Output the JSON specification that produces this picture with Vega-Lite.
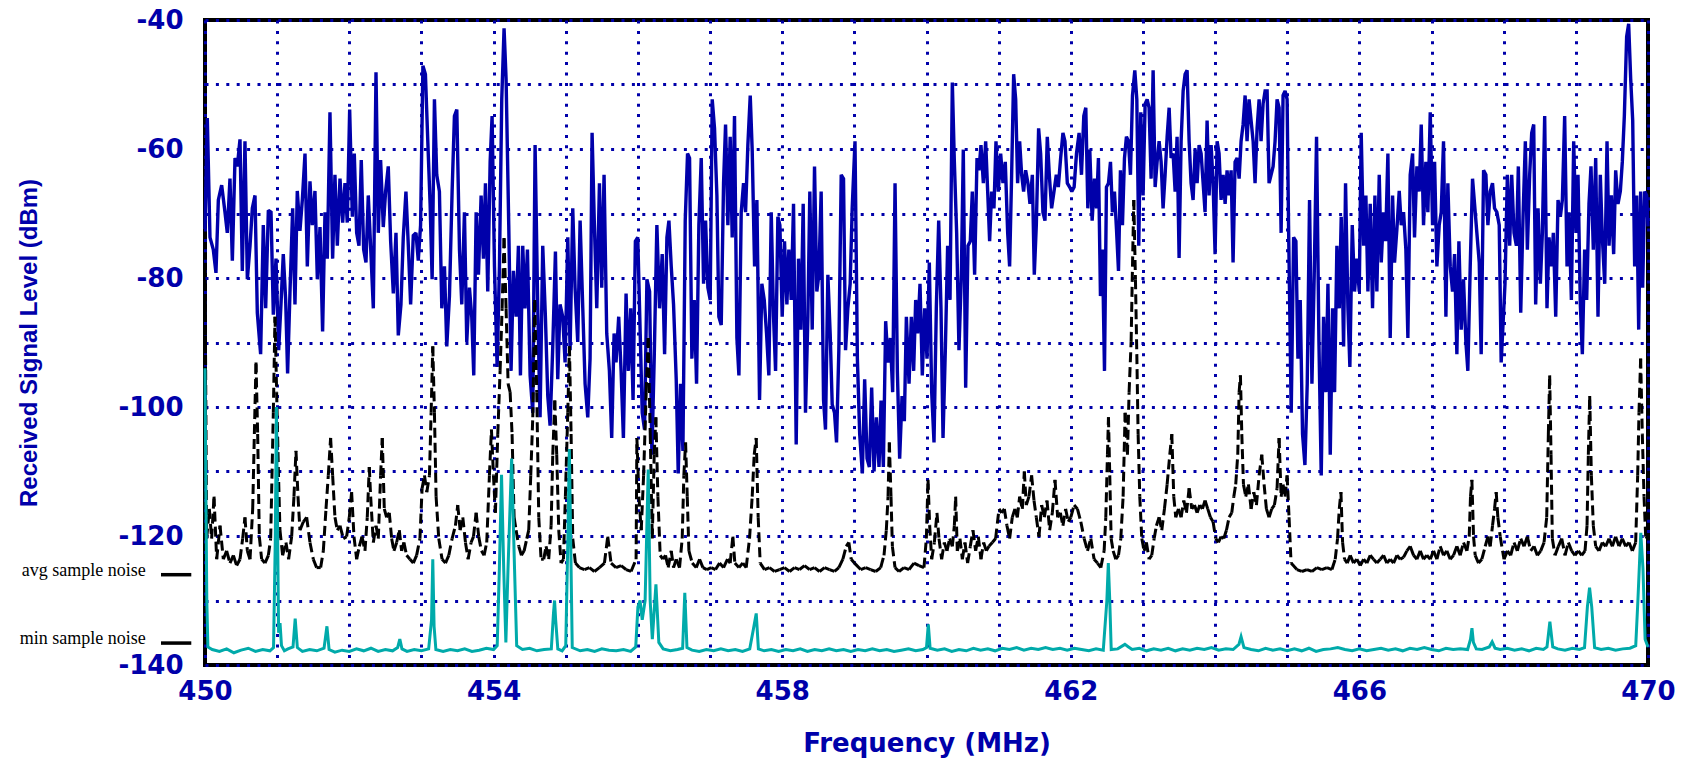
{
  "$schema": "https://vega.github.io/schema/vega-lite/v6.json",
  "width": 1443,
  "height": 645,
  "autosize": {"type": "none"},
  "padding": {"left": 205, "right": 42, "top": 20, "bottom": 97},
  "background": "#ffffff",
  "config": {
    "view": {"stroke": "#000000", "strokeWidth": 4},
    "axis": {
      "domain": false,
      "ticks": false,
      "tickSize": 0,
      "grid": true,
      "gridColor": "#0000AA",
      "gridWidth": 3,
      "gridDash": [3, 7.4],
      "gridOpacity": 1,
      "labelFont": "DejaVu Sans",
      "labelFontWeight": "bold",
      "labelFontSize": 26,
      "labelColor": "#0000AA",
      "labelOverlap": false,
      "labelFlush": false,
      "labelBound": false,
      "titleColor": "#0000AA"
    }
  },
  "datasets": {
    "maxTrace": [
      {"f":450.0,"v":-72.4},{"f":450.032,"v":-55.2},{"f":450.069,"v":-73.7},{"f":450.115,"v":-75.6},{"f":450.152,"v":-79.2},{"f":450.185,"v":-67.9},{"f":450.231,"v":-65.6},{"f":450.277,"v":-69.8},{"f":450.309,"v":-73},{"f":450.346,"v":-64.6},{"f":450.379,"v":-77.3},{"f":450.416,"v":-61.4},{"f":450.448,"v":-62.7},{"f":450.485,"v":-58.5},{"f":450.517,"v":-78.9},{"f":450.554,"v":-58.8},{"f":450.587,"v":-80.2},{"f":450.624,"v":-75},{"f":450.656,"v":-69.2},{"f":450.693,"v":-67.2},{"f":450.725,"v":-85.4},{"f":450.771,"v":-91.8},{"f":450.808,"v":-71.8},{"f":450.841,"v":-84.7},{"f":450.878,"v":-69.5},{"f":450.915,"v":-69.8},{"f":450.947,"v":-85.7},{"f":450.984,"v":-77},{"f":451.021,"v":-91.2},{"f":451.053,"v":-84.1},{"f":451.085,"v":-76.3},{"f":451.118,"v":-83.4},{"f":451.145,"v":-94.8},{"f":451.178,"v":-82.1},{"f":451.215,"v":-69.2},{"f":451.247,"v":-84.1},{"f":451.279,"v":-66.5},{"f":451.316,"v":-72.7},{"f":451.349,"v":-67.9},{"f":451.386,"v":-60.7},{"f":451.418,"v":-78.2},{"f":451.455,"v":-65},{"f":451.487,"v":-71.8},{"f":451.524,"v":-66.5},{"f":451.557,"v":-80.2},{"f":451.594,"v":-72.1},{"f":451.63,"v":-88.3},{"f":451.663,"v":-69.8},{"f":451.695,"v":-77},{"f":451.732,"v":-54.3},{"f":451.769,"v":-77},{"f":451.801,"v":-64},{"f":451.834,"v":-75},{"f":451.871,"v":-64.6},{"f":451.908,"v":-71.4},{"f":451.94,"v":-65.3},{"f":451.972,"v":-71.4},{"f":452.005,"v":-53.9},{"f":452.042,"v":-70.5},{"f":452.069,"v":-60.7},{"f":452.102,"v":-73},{"f":452.134,"v":-75},{"f":452.166,"v":-61.7},{"f":452.199,"v":-75.6},{"f":452.231,"v":-77.6},{"f":452.263,"v":-67.2},{"f":452.296,"v":-75.3},{"f":452.333,"v":-84.7},{"f":452.37,"v":-48.1},{"f":452.402,"v":-73},{"f":452.434,"v":-61.7},{"f":452.471,"v":-72.1},{"f":452.503,"v":-66.6},{"f":452.54,"v":-62.7},{"f":452.573,"v":-74.3},{"f":452.61,"v":-82.4},{"f":452.647,"v":-73},{"f":452.679,"v":-88.9},{"f":452.716,"v":-84.1},{"f":452.748,"v":-73.7},{"f":452.785,"v":-66.6},{"f":452.818,"v":-75},{"f":452.85,"v":-84.1},{"f":452.887,"v":-73.4},{"f":452.924,"v":-73},{"f":452.956,"v":-77.3},{"f":452.988,"v":-71.8},{"f":453.02,"v":-47.1},
      {"f":453.055,"v":-48.4},{"f":453.088,"v":-58.8},{"f":453.12,"v":-68.5},{"f":453.148,"v":-80.2},{"f":453.18,"v":-52.3},{"f":453.212,"v":-64},{"f":453.249,"v":-66.6},{"f":453.282,"v":-84.7},{"f":453.319,"v":-78.2},{"f":453.351,"v":-90.6},{"f":453.388,"v":-82.8},{"f":453.425,"v":-66.6},{"f":453.457,"v":-54.9},{"f":453.49,"v":-53.9},{"f":453.527,"v":-75.6},{"f":453.559,"v":-84.1},{"f":453.596,"v":-69.8},{"f":453.628,"v":-89.9},{"f":453.665,"v":-81.5},{"f":453.697,"v":-86},{"f":453.725,"v":-95.1},{"f":453.758,"v":-69.8},{"f":453.79,"v":-79.5},{"f":453.827,"v":-67.2},{"f":453.859,"v":-77},{"f":453.887,"v":-65.3},{"f":453.919,"v":-82.1},{"f":453.952,"v":-62},{"f":453.979,"v":-54.9},{"f":454.012,"v":-78.2},{"f":454.049,"v":-93.8},{"f":454.081,"v":-78.2},{"f":454.113,"v":-52.3},{"f":454.145,"v":-41.3},{"f":454.173,"v":-49.1},{"f":454.21,"v":-71.8},{"f":454.242,"v":-94.4},{"f":454.275,"v":-78.9},{"f":454.312,"v":-86},{"f":454.344,"v":-75},{"f":454.372,"v":-95.1},{"f":454.404,"v":-75},{"f":454.436,"v":-84.7},{"f":454.469,"v":-75.6},{"f":454.506,"v":-95.1},{"f":454.543,"v":-100.9},{"f":454.575,"v":-59.4},{"f":454.612,"v":-84.7},{"f":454.644,"v":-101.6},{"f":454.681,"v":-75},{"f":454.718,"v":-86},{"f":454.751,"v":-98.3},{"f":454.783,"v":-102.9},{"f":454.82,"v":-90.6},{"f":454.857,"v":-75.9},{"f":454.889,"v":-95.7},{"f":454.921,"v":-84.1},{"f":454.958,"v":-86},{"f":454.991,"v":-93.1},{"f":455.028,"v":-73.7},{"f":455.06,"v":-91.2},{"f":455.097,"v":-69.2},{"f":455.129,"v":-81.5},{"f":455.166,"v":-89.9},{"f":455.199,"v":-71.1},{"f":455.236,"v":-84.7},{"f":455.268,"v":-96.4},{"f":455.305,"v":-101.6},{"f":455.337,"v":-92.5},{"f":455.365,"v":-57.5},{"f":455.397,"v":-71.8},{"f":455.43,"v":-84.7},{"f":455.467,"v":-65.3},{"f":455.499,"v":-81.5},{"f":455.531,"v":-64},{"f":455.568,"v":-88.6},{"f":455.605,"v":-94.4},{"f":455.637,"v":-104.8},{"f":455.67,"v":-88.6},{"f":455.697,"v":-93.1},{"f":455.734,"v":-86},{"f":455.767,"v":-94.4},{"f":455.799,"v":-104.8},{"f":455.836,"v":-82.4},{"f":455.868,"v":-94.4},{"f":455.901,"v":-84.7},{"f":455.933,"v":-98.9},{"f":455.965,"v":-74.3},{"f":455.998,"v":-73.7},
      {"f":456.032,"v":-88.6},{"f":456.06,"v":-100.9},{"f":456.092,"v":-103.5},{"f":456.125,"v":-80.2},{"f":456.162,"v":-82.1},{"f":456.194,"v":-107.4},{"f":456.226,"v":-92.5},{"f":456.263,"v":-71.8},{"f":456.3,"v":-84.7},{"f":456.337,"v":-76.3},{"f":456.37,"v":-91.8},{"f":456.402,"v":-73.7},{"f":456.43,"v":-71.1},{"f":456.462,"v":-78.2},{"f":456.494,"v":-84.1},{"f":456.531,"v":-95.7},{"f":456.559,"v":-110.3},{"f":456.591,"v":-96.4},{"f":456.624,"v":-106.8},{"f":456.656,"v":-71.1},{"f":456.688,"v":-60.7},{"f":456.716,"v":-61.4},{"f":456.748,"v":-92.5},{"f":456.781,"v":-83.4},{"f":456.813,"v":-96.4},{"f":456.845,"v":-71.8},{"f":456.878,"v":-61.4},{"f":456.91,"v":-80.9},{"f":456.938,"v":-71.1},{"f":456.97,"v":-81.5},{"f":457.002,"v":-83.4},{"f":457.03,"v":-52.3},{"f":457.062,"v":-56.8},{"f":457.095,"v":-67.2},{"f":457.122,"v":-86},{"f":457.155,"v":-87.3},{"f":457.187,"v":-65.3},{"f":457.215,"v":-56.2},{"f":457.247,"v":-71.8},{"f":457.279,"v":-58.1},{"f":457.307,"v":-73.7},{"f":457.339,"v":-54.9},{"f":457.372,"v":-89.3},{"f":457.4,"v":-95.1},{"f":457.432,"v":-69.8},{"f":457.464,"v":-65.3},{"f":457.492,"v":-69.8},{"f":457.524,"v":-59.4},{"f":457.557,"v":-51.7},{"f":457.584,"v":-60.1},{"f":457.617,"v":-78.2},{"f":457.649,"v":-67.9},{"f":457.686,"v":-98.9},{"f":457.718,"v":-80.9},{"f":457.751,"v":-83.4},{"f":457.783,"v":-88.6},{"f":457.815,"v":-95.1},{"f":457.848,"v":-69.8},{"f":457.88,"v":-86},{"f":457.908,"v":-94.4},{"f":457.94,"v":-70.5},{"f":457.968,"v":-71.8},{"f":458.0,"v":-86},{"f":458.032,"v":-74.3},{"f":458.065,"v":-84.1},{"f":458.092,"v":-75.6},{"f":458.125,"v":-83.4},{"f":458.157,"v":-68.5},{"f":458.194,"v":-105.8},{"f":458.226,"v":-77},{"f":458.259,"v":-88},{"f":458.291,"v":-68.5},{"f":458.323,"v":-100.9},{"f":458.356,"v":-86},{"f":458.383,"v":-66.6},{"f":458.416,"v":-88},{"f":458.448,"v":-62.7},{"f":458.48,"v":-82.1},{"f":458.508,"v":-79.5},{"f":458.54,"v":-66.6},{"f":458.573,"v":-98.9},{"f":458.6,"v":-103.5},{"f":458.633,"v":-79.5},{"f":458.665,"v":-88.6},{"f":458.693,"v":-99.6},{"f":458.725,"v":-100.9},{"f":458.753,"v":-105.5},{"f":458.785,"v":-91.2},{"f":458.818,"v":-64},{"f":458.85,"v":-64.6},{"f":458.878,"v":-91.2},{"f":458.91,"v":-84.7},{"f":458.942,"v":-80.9},{"f":458.97,"v":-69.2},
      {"f":459.009,"v":-58.8},{"f":459.042,"v":-92.5},{"f":459.074,"v":-104.2},{"f":459.111,"v":-110.3},{"f":459.143,"v":-95.7},{"f":459.176,"v":-108},{"f":459.208,"v":-109.3},{"f":459.24,"v":-97},{"f":459.273,"v":-110},{"f":459.305,"v":-101.6},{"f":459.342,"v":-109.3},{"f":459.37,"v":-99},{"f":459.402,"v":-109.3},{"f":459.434,"v":-86.7},{"f":459.467,"v":-93.1},{"f":459.499,"v":-89.3},{"f":459.531,"v":-97.7},{"f":459.564,"v":-65.3},{"f":459.596,"v":-94.4},{"f":459.628,"v":-108},{"f":459.661,"v":-98.3},{"f":459.693,"v":-102.2},{"f":459.721,"v":-86},{"f":459.758,"v":-96.4},{"f":459.79,"v":-86},{"f":459.822,"v":-94.4},{"f":459.85,"v":-83.4},{"f":459.878,"v":-88.6},{"f":459.91,"v":-80.9},{"f":459.942,"v":-95.1},{"f":459.975,"v":-84.7},{"f":460.007,"v":-92.5},{"f":460.039,"v":-77.6},{"f":460.072,"v":-97.7},{"f":460.104,"v":-105.5},{"f":460.136,"v":-84.7},{"f":460.169,"v":-71.1},{"f":460.201,"v":-84.7},{"f":460.229,"v":-104.8},{"f":460.261,"v":-91.2},{"f":460.293,"v":-75},{"f":460.326,"v":-83.4},{"f":460.358,"v":-49.7},{"f":460.386,"v":-62},{"f":460.418,"v":-73},{"f":460.45,"v":-91.2},{"f":460.483,"v":-79.5},{"f":460.51,"v":-60.1},{"f":460.543,"v":-97},{"f":460.575,"v":-75},{"f":460.607,"v":-74.3},{"f":460.635,"v":-66.6},{"f":460.667,"v":-79.5},{"f":460.7,"v":-61.4},{"f":460.727,"v":-63.3},{"f":460.755,"v":-59.4},{"f":460.788,"v":-65.3},{"f":460.82,"v":-58.8},{"f":460.848,"v":-66.6},{"f":460.875,"v":-74.3},{"f":460.903,"v":-66.6},{"f":460.935,"v":-69.2},{"f":460.963,"v":-58.8},{"f":460.995,"v":-66.6},{"f":461.028,"v":-60.7},{"f":461.06,"v":-65.3},{"f":461.092,"v":-62},{"f":461.125,"v":-73},{"f":461.152,"v":-78.2},{"f":461.18,"v":-64},{"f":461.208,"v":-48.4},{"f":461.236,"v":-52.3},{"f":461.263,"v":-65.3},{"f":461.291,"v":-58.8},{"f":461.319,"v":-64},{"f":461.346,"v":-66.6},{"f":461.374,"v":-63.3},{"f":461.406,"v":-65.3},{"f":461.434,"v":-68.5},{"f":461.467,"v":-64},{"f":461.494,"v":-79.5},{"f":461.522,"v":-71.8},{"f":461.554,"v":-56.8},{"f":461.582,"v":-60.7},{"f":461.614,"v":-69.8},{"f":461.642,"v":-71.1},{"f":461.674,"v":-58.1},{"f":461.702,"v":-64},{"f":461.734,"v":-69.2},{"f":461.767,"v":-66.6},{"f":461.799,"v":-64},{"f":461.827,"v":-65.9},{"f":461.859,"v":-61.4},{"f":461.891,"v":-57.5},{"f":461.919,"v":-58.8},{"f":461.952,"v":-65.3},{"f":461.984,"v":-65.9},
      {"f":462.014,"v":-66.6},{"f":462.046,"v":-65.9},{"f":462.079,"v":-60.7},{"f":462.115,"v":-57.5},{"f":462.148,"v":-64},{"f":462.18,"v":-54.9},{"f":462.208,"v":-53.6},{"f":462.236,"v":-69.2},{"f":462.263,"v":-60.1},{"f":462.296,"v":-71.1},{"f":462.328,"v":-64.6},{"f":462.356,"v":-69.2},{"f":462.383,"v":-61.4},{"f":462.411,"v":-82.8},{"f":462.439,"v":-75.6},{"f":462.467,"v":-94.4},{"f":462.494,"v":-65.9},{"f":462.522,"v":-65.3},{"f":462.55,"v":-62},{"f":462.577,"v":-69.8},{"f":462.605,"v":-66.6},{"f":462.633,"v":-72.4},{"f":462.661,"v":-78.9},{"f":462.688,"v":-63.3},{"f":462.716,"v":-71.8},{"f":462.744,"v":-61.4},{"f":462.771,"v":-58.1},{"f":462.799,"v":-58.8},{"f":462.827,"v":-64},{"f":462.855,"v":-51.7},{"f":462.887,"v":-47.8},{"f":462.915,"v":-52.3},{"f":462.942,"v":-75},{"f":462.97,"v":-54.3},{"f":463.002,"v":-67.2},{"f":463.03,"v":-53},{"f":463.058,"v":-52.3},{"f":463.085,"v":-53.6},{"f":463.113,"v":-64.6},{"f":463.141,"v":-47.8},{"f":463.169,"v":-65.9},{"f":463.196,"v":-62},{"f":463.224,"v":-58.8},{"f":463.252,"v":-62},{"f":463.279,"v":-69.2},{"f":463.307,"v":-64},{"f":463.335,"v":-58.1},{"f":463.363,"v":-53.6},{"f":463.39,"v":-61.4},{"f":463.418,"v":-60.7},{"f":463.446,"v":-66.6},{"f":463.473,"v":-58.1},{"f":463.501,"v":-76.9},{"f":463.529,"v":-58.8},{"f":463.557,"v":-51},{"f":463.584,"v":-48.4},{"f":463.612,"v":-47.8},{"f":463.64,"v":-58.8},{"f":463.667,"v":-65.3},{"f":463.695,"v":-67.9},{"f":463.723,"v":-60.1},{"f":463.751,"v":-65.3},{"f":463.778,"v":-59.4},{"f":463.806,"v":-60.7},{"f":463.834,"v":-65.3},{"f":463.861,"v":-69.8},{"f":463.889,"v":-55.6},{"f":463.917,"v":-67.2},{"f":463.945,"v":-59.4},{"f":463.972,"v":-65.3},{"f":464.0,"v":-76.3},{"f":464.028,"v":-58.8},{"f":464.055,"v":-60.7},{"f":464.083,"v":-67.9},{"f":464.111,"v":-64},{"f":464.139,"v":-68.5},{"f":464.166,"v":-63.3},{"f":464.194,"v":-67.2},{"f":464.222,"v":-63.3},{"f":464.249,"v":-77.6},{"f":464.277,"v":-62},{"f":464.305,"v":-61.4},{"f":464.333,"v":-64.6},{"f":464.36,"v":-58.8},{"f":464.388,"v":-56.2},{"f":464.416,"v":-51.7},{"f":464.443,"v":-58.8},{"f":464.471,"v":-52.3},{"f":464.499,"v":-55.6},{"f":464.527,"v":-58.8},{"f":464.554,"v":-65.3},{"f":464.582,"v":-56.8},{"f":464.61,"v":-52.3},{"f":464.637,"v":-58.8},{"f":464.665,"v":-53},{"f":464.693,"v":-51},{"f":464.721,"v":-51},{"f":464.748,"v":-65.3},{"f":464.776,"v":-64},{"f":464.804,"v":-62.7},{"f":464.831,"v":-58.8},{"f":464.859,"v":-52.3},{"f":464.887,"v":-53.6},{"f":464.915,"v":-73},{"f":464.942,"v":-51.7},{"f":464.97,"v":-51},{"f":464.998,"v":-52.3},
      {"f":465.018,"v":-71.8},{"f":465.055,"v":-100.9},{"f":465.088,"v":-73.7},{"f":465.12,"v":-74.3},{"f":465.148,"v":-92.5},{"f":465.18,"v":-83.4},{"f":465.212,"v":-104.2},{"f":465.245,"v":-109},{"f":465.277,"v":-96.4},{"f":465.309,"v":-67.9},{"f":465.342,"v":-96.4},{"f":465.374,"v":-79.5},{"f":465.406,"v":-58.1},{"f":465.439,"v":-89.9},{"f":465.471,"v":-110.6},{"f":465.503,"v":-86},{"f":465.536,"v":-97.7},{"f":465.564,"v":-80.9},{"f":465.596,"v":-107.4},{"f":465.628,"v":-84.7},{"f":465.656,"v":-97.7},{"f":465.688,"v":-75},{"f":465.721,"v":-84.7},{"f":465.748,"v":-70.5},{"f":465.781,"v":-90.6},{"f":465.808,"v":-65.3},{"f":465.841,"v":-84.7},{"f":465.868,"v":-93.8},{"f":465.901,"v":-71.8},{"f":465.933,"v":-82.1},{"f":465.965,"v":-77},{"f":465.998,"v":-82.1},{"f":466.025,"v":-57.5},{"f":466.058,"v":-75},{"f":466.09,"v":-67.2},{"f":466.118,"v":-82.1},{"f":466.15,"v":-68.5},{"f":466.182,"v":-84.7},{"f":466.215,"v":-67.2},{"f":466.242,"v":-82.1},{"f":466.275,"v":-64},{"f":466.303,"v":-77.6},{"f":466.335,"v":-69.8},{"f":466.363,"v":-74.3},{"f":466.395,"v":-60.7},{"f":466.427,"v":-89.3},{"f":466.46,"v":-67.2},{"f":466.487,"v":-77.6},{"f":466.52,"v":-72.4},{"f":466.552,"v":-66.5},{"f":466.58,"v":-71.8},{"f":466.612,"v":-69.8},{"f":466.644,"v":-75.6},{"f":466.672,"v":-89.3},{"f":466.704,"v":-64},{"f":466.737,"v":-60.7},{"f":466.764,"v":-73.7},{"f":466.797,"v":-62.7},{"f":466.829,"v":-66.6},{"f":466.857,"v":-56.2},{"f":466.889,"v":-71.8},{"f":466.921,"v":-62},{"f":466.949,"v":-69.8},{"f":466.982,"v":-54.3},{"f":467.014,"v":-71.8},{"f":467.042,"v":-62},{"f":467.074,"v":-78.2},{"f":467.106,"v":-71.8},{"f":467.134,"v":-69.8},{"f":467.166,"v":-58.8},{"f":467.199,"v":-86},{"f":467.226,"v":-65.3},{"f":467.259,"v":-78.2},{"f":467.291,"v":-82.1},{"f":467.319,"v":-76.3},{"f":467.351,"v":-91.8},{"f":467.379,"v":-74.3},{"f":467.411,"v":-88},{"f":467.443,"v":-80.2},{"f":467.476,"v":-89.9},{"f":467.503,"v":-94.4},{"f":467.536,"v":-78.2},{"f":467.568,"v":-64.6},{"f":467.596,"v":-68.5},{"f":467.628,"v":-73},{"f":467.661,"v":-77.6},{"f":467.688,"v":-91.8},{"f":467.721,"v":-63.3},{"f":467.753,"v":-64},{"f":467.781,"v":-71.8},{"f":467.813,"v":-66.6},{"f":467.845,"v":-65.3},{"f":467.873,"v":-69.2},{"f":467.905,"v":-69.8},{"f":467.938,"v":-71.8},{"f":467.965,"v":-93.1},
      {"f":468.018,"v":-80.9},{"f":468.051,"v":-64},{"f":468.083,"v":-75},{"f":468.111,"v":-64},{"f":468.143,"v":-73},{"f":468.176,"v":-75},{"f":468.203,"v":-62.7},{"f":468.236,"v":-85.4},{"f":468.268,"v":-70.5},{"f":468.3,"v":-58.8},{"f":468.328,"v":-75.6},{"f":468.36,"v":-64},{"f":468.388,"v":-57.5},{"f":468.416,"v":-56.2},{"f":468.443,"v":-84.1},{"f":468.476,"v":-69.2},{"f":468.508,"v":-80.9},{"f":468.536,"v":-73},{"f":468.568,"v":-54.9},{"f":468.6,"v":-84.7},{"f":468.628,"v":-73.7},{"f":468.661,"v":-78.2},{"f":468.688,"v":-73},{"f":468.721,"v":-86},{"f":468.753,"v":-67.9},{"f":468.785,"v":-70.5},{"f":468.813,"v":-67.9},{"f":468.845,"v":-54.9},{"f":468.878,"v":-78.2},{"f":468.905,"v":-69.8},{"f":468.938,"v":-83.4},{"f":468.97,"v":-58.8},{"f":469.002,"v":-73},{"f":469.03,"v":-64},{"f":469.062,"v":-84.1},{"f":469.09,"v":-91.8},{"f":469.122,"v":-75.6},{"f":469.15,"v":-83.4},{"f":469.182,"v":-68.5},{"f":469.21,"v":-62.7},{"f":469.242,"v":-75.6},{"f":469.275,"v":-61.4},{"f":469.307,"v":-86},{"f":469.339,"v":-64},{"f":469.367,"v":-73.7},{"f":469.4,"v":-80.9},{"f":469.432,"v":-58.8},{"f":469.46,"v":-75},{"f":469.492,"v":-67.2},{"f":469.524,"v":-76.3},{"f":469.552,"v":-63.3},{"f":469.584,"v":-68.5},{"f":469.617,"v":-66.5},{"f":469.644,"v":-62},{"f":469.672,"v":-54.9},{"f":469.704,"v":-42.6},{"f":469.732,"v":-40.6},{"f":469.76,"v":-49.1},{"f":469.788,"v":-55.6},{"f":469.815,"v":-78.2},{"f":469.843,"v":-67.2},{"f":469.871,"v":-88},{"f":469.898,"v":-66.6},{"f":469.926,"v":-81.5},{"f":469.954,"v":-66.6},{"f":469.982,"v":-67.2},{"f":470.0,"v":-72}
    ],
    "avgTrace": [
      {"f":450.0,"v":-78},{"f":450.023,"v":-120.4},{"f":450.06,"v":-115.8},{"f":450.092,"v":-120.4},{"f":450.125,"v":-113.9},{"f":450.162,"v":-123.6},{"f":450.208,"v":-118.4},{"f":450.254,"v":-123.6},{"f":450.3,"v":-122.3},{"f":450.346,"v":-124.2},{"f":450.393,"v":-123},{"f":450.439,"v":-124.6},{"f":450.485,"v":-123.6},{"f":450.522,"v":-120.4},{"f":450.554,"v":-117.1},{"f":450.587,"v":-122.3},{"f":450.624,"v":-123.6},{"f":450.661,"v":-115.8},{"f":450.684,"v":-104.2},{"f":450.707,"v":-93.1},{"f":450.73,"v":-104.2},{"f":450.753,"v":-120.1},{"f":450.785,"v":-123.6},{"f":450.831,"v":-124.2},{"f":450.878,"v":-123},{"f":450.91,"v":-120.4},{"f":450.947,"v":-100.9},{"f":450.97,"v":-86},{"f":450.993,"v":-97.7},{"f":451.016,"v":-109.3},{"f":451.039,"v":-119.1},{"f":451.076,"v":-123},{"f":451.122,"v":-121},{"f":451.159,"v":-123.6},{"f":451.201,"v":-120.1},{"f":451.233,"v":-113.9},{"f":451.261,"v":-106.8},{"f":451.289,"v":-113.9},{"f":451.316,"v":-119.1},{"f":451.363,"v":-117.8},{"f":451.409,"v":-117.1},{"f":451.455,"v":-121},{"f":451.501,"v":-123.6},{"f":451.547,"v":-124.9},{"f":451.603,"v":-124.9},{"f":451.64,"v":-122.3},{"f":451.677,"v":-115.8},{"f":451.709,"v":-110.6},{"f":451.741,"v":-104.8},{"f":451.769,"v":-110.6},{"f":451.801,"v":-117.1},{"f":451.834,"v":-119.1},{"f":451.871,"v":-118.4},{"f":451.917,"v":-120.4},{"f":451.963,"v":-120.1},{"f":452.0,"v":-117.1},{"f":452.032,"v":-113.2},{"f":452.065,"v":-120.1},{"f":452.102,"v":-123.6},{"f":452.139,"v":-121.6},{"f":452.176,"v":-120.1},{"f":452.217,"v":-122.3},{"f":452.249,"v":-117.1},{"f":452.277,"v":-109.3},{"f":452.296,"v":-113.9},{"f":452.333,"v":-121},{"f":452.37,"v":-118.4},{"f":452.402,"v":-120.4},{"f":452.434,"v":-110.6},{"f":452.457,"v":-104.8},{"f":452.485,"v":-115.8},{"f":452.517,"v":-117.1},{"f":452.554,"v":-116.4},{"f":452.587,"v":-120.4},{"f":452.619,"v":-122.3},{"f":452.656,"v":-121},{"f":452.693,"v":-119.1},{"f":452.725,"v":-122.3},{"f":452.757,"v":-121},{"f":452.794,"v":-123},{"f":452.841,"v":-123.6},{"f":452.887,"v":-124.2},{"f":452.933,"v":-123},{"f":452.979,"v":-120.4},
      {"f":453.009,"v":-112.6},{"f":453.042,"v":-110.6},{"f":453.074,"v":-113.2},{"f":453.111,"v":-110.6},{"f":453.134,"v":-100.9},{"f":453.157,"v":-90.6},{"f":453.18,"v":-100.9},{"f":453.203,"v":-113.9},{"f":453.24,"v":-120.4},{"f":453.286,"v":-123.6},{"f":453.333,"v":-124.2},{"f":453.379,"v":-123},{"f":453.425,"v":-120.4},{"f":453.471,"v":-118.4},{"f":453.503,"v":-115.2},{"f":453.536,"v":-119.1},{"f":453.573,"v":-117.1},{"f":453.61,"v":-121},{"f":453.647,"v":-123.6},{"f":453.688,"v":-121},{"f":453.721,"v":-120.1},{"f":453.758,"v":-116.4},{"f":453.794,"v":-120.1},{"f":453.831,"v":-122.3},{"f":453.868,"v":-123},{"f":453.905,"v":-121},{"f":453.942,"v":-110.6},{"f":453.97,"v":-103.5},{"f":453.998,"v":-110.6},{"f":454.025,"v":-116.4},{"f":454.058,"v":-104.2},{"f":454.09,"v":-94.4},{"f":454.118,"v":-84.7},{"f":454.145,"v":-73.8},{"f":454.173,"v":-84.7},{"f":454.201,"v":-96.4},{"f":454.229,"v":-97.7},{"f":454.256,"v":-104.2},{"f":454.284,"v":-117.1},{"f":454.312,"v":-119.1},{"f":454.349,"v":-121.6},{"f":454.386,"v":-123},{"f":454.423,"v":-122.3},{"f":454.46,"v":-120.4},{"f":454.487,"v":-119.1},{"f":454.515,"v":-110.6},{"f":454.543,"v":-101.6},{"f":454.57,"v":-83.4},{"f":454.598,"v":-97.7},{"f":454.626,"v":-117.1},{"f":454.658,"v":-123.6},{"f":454.695,"v":-123.6},{"f":454.727,"v":-121.6},{"f":454.764,"v":-123.6},{"f":454.797,"v":-118.4},{"f":454.82,"v":-107.4},{"f":454.848,"v":-99},{"f":454.875,"v":-107.4},{"f":454.903,"v":-119.1},{"f":454.935,"v":-124.2},{"f":454.968,"v":-123.6},{"f":454.995,"v":-113.9},{"f":455.028,"v":-100.9},{"f":455.051,"v":-90.6},{"f":455.074,"v":-104.2},{"f":455.097,"v":-120.4},{"f":455.134,"v":-124.2},{"f":455.189,"v":-124.9},{"f":455.259,"v":-125.2},{"f":455.328,"v":-124.9},{"f":455.397,"v":-125.5},{"f":455.467,"v":-124.9},{"f":455.536,"v":-124.2},{"f":455.582,"v":-120.1},{"f":455.628,"v":-124.2},{"f":455.697,"v":-124.9},{"f":455.767,"v":-124.6},{"f":455.836,"v":-125.2},{"f":455.905,"v":-125.5},{"f":455.975,"v":-123.6},
      {"f":455.986,"v":-104.8},{"f":456.014,"v":-113.9},{"f":456.046,"v":-119.1},{"f":456.079,"v":-110.6},{"f":456.115,"v":-97.7},{"f":456.143,"v":-89.3},{"f":456.171,"v":-104.2},{"f":456.199,"v":-120.4},{"f":456.226,"v":-107.4},{"f":456.249,"v":-101.6},{"f":456.277,"v":-113.9},{"f":456.309,"v":-123},{"f":456.346,"v":-123.6},{"f":456.383,"v":-123},{"f":456.42,"v":-124.9},{"f":456.462,"v":-122.3},{"f":456.494,"v":-124.9},{"f":456.531,"v":-123.6},{"f":456.577,"v":-124.9},{"f":456.614,"v":-120.4},{"f":456.637,"v":-110.6},{"f":456.661,"v":-105.5},{"f":456.684,"v":-113.9},{"f":456.707,"v":-122.3},{"f":456.753,"v":-124.2},{"f":456.808,"v":-124.9},{"f":456.855,"v":-123.6},{"f":456.901,"v":-124.9},{"f":456.956,"v":-125.2},{"f":457.016,"v":-124.9},{"f":457.076,"v":-125.2},{"f":457.132,"v":-124.2},{"f":457.187,"v":-124.9},{"f":457.242,"v":-123.6},{"f":457.279,"v":-124.2},{"f":457.316,"v":-120.1},{"f":457.344,"v":-124.2},{"f":457.4,"v":-124.9},{"f":457.455,"v":-124.2},{"f":457.501,"v":-124.9},{"f":457.547,"v":-120.4},{"f":457.584,"v":-113.9},{"f":457.612,"v":-107.4},{"f":457.64,"v":-104.8},{"f":457.667,"v":-117.1},{"f":457.695,"v":-124.2},{"f":457.755,"v":-125.2},{"f":457.824,"v":-124.9},{"f":457.894,"v":-125.5},{"f":457.963,"v":-125.2},{"f":458.032,"v":-124.9},{"f":458.102,"v":-125.5},{"f":458.171,"v":-124.9},{"f":458.24,"v":-125.2},{"f":458.309,"v":-124.6},{"f":458.379,"v":-125.2},{"f":458.448,"v":-124.9},{"f":458.517,"v":-125.5},{"f":458.587,"v":-124.9},{"f":458.656,"v":-125.2},{"f":458.725,"v":-125.5},{"f":458.785,"v":-124.9},{"f":458.841,"v":-123.6},{"f":458.887,"v":-121.6},{"f":458.924,"v":-121},{"f":458.956,"v":-123.6},{"f":459.002,"v":-124.2},
      {"f":459.088,"v":-125.2},{"f":459.157,"v":-124.9},{"f":459.226,"v":-125.2},{"f":459.296,"v":-125.5},{"f":459.365,"v":-124.9},{"f":459.411,"v":-123},{"f":459.443,"v":-119.1},{"f":459.467,"v":-113.9},{"f":459.485,"v":-105.5},{"f":459.508,"v":-113.9},{"f":459.527,"v":-121.6},{"f":459.564,"v":-124.9},{"f":459.619,"v":-125.5},{"f":459.688,"v":-124.9},{"f":459.758,"v":-125.2},{"f":459.827,"v":-124.2},{"f":459.896,"v":-124.6},{"f":459.965,"v":-124.9},{"f":459.998,"v":-120.4},{"f":460.021,"v":-111.3},{"f":460.044,"v":-118.4},{"f":460.072,"v":-123.6},{"f":460.109,"v":-121},{"f":460.145,"v":-116.4},{"f":460.173,"v":-120.4},{"f":460.21,"v":-123.6},{"f":460.247,"v":-121},{"f":460.284,"v":-122.3},{"f":460.321,"v":-120.4},{"f":460.358,"v":-121.6},{"f":460.386,"v":-118.4},{"f":460.404,"v":-113.9},{"f":460.427,"v":-122.3},{"f":460.464,"v":-120.4},{"f":460.497,"v":-123.6},{"f":460.533,"v":-121},{"f":460.57,"v":-124.2},{"f":460.607,"v":-121.6},{"f":460.644,"v":-119.1},{"f":460.681,"v":-122.3},{"f":460.718,"v":-120.1},{"f":460.755,"v":-123.6},{"f":460.792,"v":-121},{"f":460.829,"v":-122.3},{"f":460.866,"v":-121.6},{"f":460.912,"v":-121},{"f":460.958,"v":-120.4},{"f":461.005,"v":-115.8},{"f":461.042,"v":-116.4},{"f":461.079,"v":-115.8},{"f":461.115,"v":-118.4},{"f":461.152,"v":-120.4},{"f":461.189,"v":-117.1},{"f":461.226,"v":-115.8},{"f":461.259,"v":-117.1},{"f":461.291,"v":-113.9},{"f":461.328,"v":-115.8},{"f":461.356,"v":-110},{"f":461.383,"v":-115.2},{"f":461.42,"v":-113.9},{"f":461.457,"v":-110.6},{"f":461.49,"v":-114.5},{"f":461.522,"v":-117.1},{"f":461.559,"v":-120.1},{"f":461.596,"v":-115.2},{"f":461.633,"v":-117.1},{"f":461.67,"v":-114.5},{"f":461.707,"v":-119.1},{"f":461.744,"v":-116.4},{"f":461.781,"v":-111.3},{"f":461.818,"v":-117.1},{"f":461.855,"v":-116.4},{"f":461.891,"v":-118.4},{"f":461.928,"v":-115.8},{"f":461.965,"v":-117.8},
      {"f":462.0,"v":-117.1},{"f":462.046,"v":-115.2},{"f":462.092,"v":-115.8},{"f":462.139,"v":-117.8},{"f":462.185,"v":-120.4},{"f":462.231,"v":-122.3},{"f":462.277,"v":-120.4},{"f":462.323,"v":-123.6},{"f":462.37,"v":-124.2},{"f":462.416,"v":-124.9},{"f":462.462,"v":-122.3},{"f":462.485,"v":-117.1},{"f":462.508,"v":-107.4},{"f":462.522,"v":-101.6},{"f":462.54,"v":-110.6},{"f":462.559,"v":-120.4},{"f":462.587,"v":-122.3},{"f":462.624,"v":-123.6},{"f":462.661,"v":-123},{"f":462.693,"v":-120.4},{"f":462.725,"v":-113.9},{"f":462.753,"v":-100.9},{"f":462.785,"v":-107.4},{"f":462.808,"v":-97.7},{"f":462.836,"v":-89.9},{"f":462.855,"v":-78.2},{"f":462.873,"v":-67.9},{"f":462.896,"v":-80.2},{"f":462.915,"v":-91.8},{"f":462.933,"v":-104.2},{"f":462.956,"v":-113.9},{"f":462.984,"v":-120.4},{"f":463.016,"v":-122.3},{"f":463.048,"v":-121},{"f":463.085,"v":-123.6},{"f":463.122,"v":-123},{"f":463.155,"v":-120.4},{"f":463.187,"v":-118.4},{"f":463.224,"v":-117.1},{"f":463.261,"v":-119.1},{"f":463.298,"v":-115.8},{"f":463.335,"v":-112},{"f":463.372,"v":-107.4},{"f":463.4,"v":-104.2},{"f":463.427,"v":-113.9},{"f":463.455,"v":-117.1},{"f":463.492,"v":-115.8},{"f":463.529,"v":-117.1},{"f":463.566,"v":-114.5},{"f":463.603,"v":-116.4},{"f":463.64,"v":-112.6},{"f":463.677,"v":-115.8},{"f":463.714,"v":-115.2},{"f":463.751,"v":-116.4},{"f":463.788,"v":-115.2},{"f":463.824,"v":-115.8},{"f":463.861,"v":-114.5},{"f":463.898,"v":-115.8},{"f":463.935,"v":-117.1},{"f":463.972,"v":-117.8},{"f":464.009,"v":-120.4},{"f":464.046,"v":-121},{"f":464.083,"v":-120.1},{"f":464.12,"v":-120.4},{"f":464.157,"v":-119.1},{"f":464.194,"v":-117.1},{"f":464.231,"v":-116.4},{"f":464.259,"v":-113.9},{"f":464.286,"v":-112},{"f":464.314,"v":-107.4},{"f":464.333,"v":-97.7},{"f":464.351,"v":-95.1},{"f":464.37,"v":-104.2},{"f":464.393,"v":-112},{"f":464.425,"v":-113.9},{"f":464.462,"v":-112},{"f":464.499,"v":-115.8},{"f":464.536,"v":-113.2},{"f":464.573,"v":-115.2},{"f":464.61,"v":-110.6},{"f":464.647,"v":-107.4},{"f":464.679,"v":-112},{"f":464.711,"v":-115.8},{"f":464.748,"v":-117.1},{"f":464.785,"v":-115.8},{"f":464.822,"v":-115.2},{"f":464.859,"v":-112.6},{"f":464.887,"v":-104.8},{"f":464.915,"v":-113.9},{"f":464.942,"v":-112},{"f":464.97,"v":-113.9},{"f":464.998,"v":-110.6},{"f":465.025,"v":-117.1},{"f":465.053,"v":-124.2},
      {"f":465.134,"v":-125.2},{"f":465.203,"v":-125.5},{"f":465.273,"v":-125.2},{"f":465.342,"v":-125.5},{"f":465.411,"v":-124.9},{"f":465.48,"v":-125.2},{"f":465.55,"v":-124.9},{"f":465.619,"v":-125.2},{"f":465.665,"v":-123.6},{"f":465.697,"v":-120.4},{"f":465.721,"v":-115.8},{"f":465.744,"v":-113.2},{"f":465.767,"v":-121},{"f":465.794,"v":-123.6},{"f":465.831,"v":-124.2},{"f":465.873,"v":-123},{"f":465.919,"v":-124.2},{"f":465.965,"v":-123.6},{"f":466.012,"v":-124.6},{"f":466.058,"v":-123.6},{"f":466.104,"v":-124.2},{"f":466.15,"v":-123},{"f":466.196,"v":-123.6},{"f":466.242,"v":-124.2},{"f":466.289,"v":-123.6},{"f":466.335,"v":-123},{"f":466.381,"v":-124.2},{"f":466.427,"v":-123.6},{"f":466.473,"v":-124.2},{"f":466.52,"v":-123},{"f":466.566,"v":-123.6},{"f":466.612,"v":-123.3},{"f":466.658,"v":-122.3},{"f":466.704,"v":-121.6},{"f":466.751,"v":-123},{"f":466.797,"v":-123.6},{"f":466.843,"v":-122.3},{"f":466.889,"v":-123.6},{"f":466.935,"v":-123},{"f":466.982,"v":-123.6},{"f":467.028,"v":-122.3},{"f":467.074,"v":-123.6},{"f":467.12,"v":-121.6},{"f":467.166,"v":-123},{"f":467.212,"v":-122.3},{"f":467.259,"v":-123.6},{"f":467.305,"v":-123},{"f":467.351,"v":-121.6},{"f":467.397,"v":-123},{"f":467.443,"v":-121},{"f":467.49,"v":-122.3},{"f":467.522,"v":-120.1},{"f":467.54,"v":-113.9},{"f":467.559,"v":-111.3},{"f":467.582,"v":-120.1},{"f":467.605,"v":-123},{"f":467.651,"v":-124.2},{"f":467.697,"v":-123.6},{"f":467.744,"v":-121.6},{"f":467.781,"v":-120.1},{"f":467.813,"v":-121.6},{"f":467.845,"v":-118.4},{"f":467.873,"v":-115.8},{"f":467.896,"v":-113.2},{"f":467.919,"v":-117.1},{"f":467.952,"v":-120.1},{"f":467.984,"v":-122.3},
      {"f":468.005,"v":-123.6},{"f":468.051,"v":-122.3},{"f":468.097,"v":-123},{"f":468.143,"v":-121},{"f":468.189,"v":-122.3},{"f":468.236,"v":-120.4},{"f":468.282,"v":-121.6},{"f":468.328,"v":-120.1},{"f":468.374,"v":-122.3},{"f":468.42,"v":-121.6},{"f":468.467,"v":-123},{"f":468.513,"v":-122.3},{"f":468.559,"v":-121},{"f":468.596,"v":-117.1},{"f":468.619,"v":-104.2},{"f":468.637,"v":-95.1},{"f":468.656,"v":-107.4},{"f":468.674,"v":-120.4},{"f":468.711,"v":-123},{"f":468.758,"v":-121.6},{"f":468.804,"v":-120.4},{"f":468.85,"v":-123},{"f":468.896,"v":-121},{"f":468.942,"v":-122.3},{"f":468.988,"v":-123},{"f":469.035,"v":-122.3},{"f":469.081,"v":-123},{"f":469.127,"v":-122.3},{"f":469.155,"v":-118.4},{"f":469.173,"v":-107.4},{"f":469.192,"v":-98.3},{"f":469.215,"v":-110.6},{"f":469.242,"v":-118.4},{"f":469.275,"v":-121.6},{"f":469.321,"v":-122.3},{"f":469.367,"v":-121},{"f":469.413,"v":-121.6},{"f":469.46,"v":-120.4},{"f":469.506,"v":-121.6},{"f":469.552,"v":-120.1},{"f":469.598,"v":-121.6},{"f":469.644,"v":-120.4},{"f":469.691,"v":-121.6},{"f":469.737,"v":-121},{"f":469.783,"v":-122.3},{"f":469.829,"v":-121},{"f":469.857,"v":-110.6},{"f":469.875,"v":-100.9},{"f":469.898,"v":-92.5},{"f":469.921,"v":-104.2},{"f":469.945,"v":-113.9},{"f":469.968,"v":-120.1},{"f":470.0,"v":-120.4}
    ],
    "minTrace": [
      {"f":450.0,"v":-94},{"f":450.01,"v":-110},{"f":450.025,"v":-130},{"f":450.04,"v":-137.2},{"f":450.1,"v":-137.6},{"f":450.2,"v":-137.9},{"f":450.3,"v":-137.5},{"f":450.4,"v":-138.1},{"f":450.5,"v":-137.7},{"f":450.6,"v":-137.4},{"f":450.7,"v":-137.9},{"f":450.8,"v":-137.6},{"f":450.9,"v":-137.8},{"f":450.95,"v":-137.3},{"f":450.975,"v":-120},{"f":450.99,"v":-100},{"f":451.005,"v":-118},{"f":451.02,"v":-135},{"f":451.04,"v":-133.5},{"f":451.06,"v":-137},{"f":451.1,"v":-137.8},{"f":451.15,"v":-137.5},{"f":451.22,"v":-137.2},{"f":451.25,"v":-132.8},{"f":451.28,"v":-137.3},{"f":451.35,"v":-137.9},{"f":451.45,"v":-137.6},{"f":451.55,"v":-137.8},{"f":451.65,"v":-137.4},{"f":451.69,"v":-134},{"f":451.72,"v":-137.6},{"f":451.8,"v":-138},{"f":451.9,"v":-137.7},{"f":452.0,"v":-137.9},{"f":452.1,"v":-137.5},{"f":452.2,"v":-137.8},{"f":452.3,"v":-137.4},{"f":452.4,"v":-137.9},{"f":452.5,"v":-137.6},{"f":452.6,"v":-137.8},{"f":452.67,"v":-137.3},{"f":452.7,"v":-136},{"f":452.73,"v":-137.5},{"f":452.8,"v":-137.9},{"f":452.9,"v":-137.6},{"f":453.0,"v":-137.8},{"f":453.1,"v":-137.5},{"f":453.14,"v":-133},{"f":453.157,"v":-123.6},{"f":453.175,"v":-134},{"f":453.2,"v":-137.6},{"f":453.3,"v":-137.9},{"f":453.4,"v":-137.6},{"f":453.5,"v":-137.8},{"f":453.6,"v":-137.5},{"f":453.7,"v":-137.9},{"f":453.8,"v":-137.7},{"f":453.9,"v":-137.4},{"f":454.0,"v":-137.6},{"f":454.05,"v":-137},{"f":454.08,"v":-125},{"f":454.11,"v":-110.5},{"f":454.14,"v":-125},{"f":454.17,"v":-136.5},{"f":454.2,"v":-125},{"f":454.25,"v":-108},{"f":454.29,"v":-125},{"f":454.32,"v":-137},{"f":454.4,"v":-137.6},{"f":454.5,"v":-137.4},{"f":454.6,"v":-137.8},{"f":454.7,"v":-137.6},{"f":454.8,"v":-137.5},{"f":454.83,"v":-132},{"f":454.845,"v":-130},{"f":454.86,"v":-133},{"f":454.89,"v":-137.5},{"f":454.95,"v":-137.8},{"f":455.0,"v":-137},{"f":455.03,"v":-120},{"f":455.05,"v":-106.5},{"f":455.07,"v":-122},{"f":455.09,"v":-137.3},{"f":455.2,"v":-137.8},{"f":455.3,"v":-137.6},{"f":455.4,"v":-137.9},{"f":455.5,"v":-137.5},{"f":455.6,"v":-137.7},{"f":455.7,"v":-137.8},{"f":455.8,"v":-137.6},{"f":455.9,"v":-137.9},{"f":455.97,"v":-137.2},{"f":456.0,"v":-131},{"f":456.03,"v":-130},{"f":456.06,"v":-133},{"f":456.1,"v":-130},{"f":456.143,"v":-109.7},{"f":456.17,"v":-130},{"f":456.2,"v":-136},{"f":456.25,"v":-127.5},{"f":456.29,"v":-136.5},{"f":456.35,"v":-137.5},{"f":456.45,"v":-137.8},{"f":456.55,"v":-137.6},{"f":456.62,"v":-137.4},{"f":456.65,"v":-128.8},{"f":456.68,"v":-137.3},{"f":456.75,"v":-137.7},{"f":456.85,"v":-137.9},{"f":456.95,"v":-137.6},{"f":457.05,"v":-137.8},{"f":457.15,"v":-137.5},{"f":457.25,"v":-137.8},{"f":457.35,"v":-137.6},{"f":457.45,"v":-137.9},{"f":457.55,"v":-137.5},{"f":457.6,"v":-134.5},{"f":457.64,"v":-132},{"f":457.67,"v":-137.5},{"f":457.75,"v":-137.8},{"f":457.85,"v":-137.6},{"f":457.95,"v":-137.9},{"f":458.05,"v":-137.6},{"f":458.15,"v":-137.8},{"f":458.25,"v":-137.5},{"f":458.35,"v":-137.9},{"f":458.45,"v":-137.6},{"f":458.55,"v":-137.8},{"f":458.65,"v":-137.5},{"f":458.75,"v":-137.8},{"f":458.85,"v":-137.6},{"f":458.95,"v":-137.9},{"f":459.05,"v":-137.6},{"f":459.15,"v":-137.8},{"f":459.25,"v":-137.5},{"f":459.35,"v":-137.8},{"f":459.45,"v":-137.6},{"f":459.55,"v":-137.9},{"f":459.65,"v":-137.7},{"f":459.75,"v":-137.5},{"f":459.85,"v":-137.8},{"f":459.95,"v":-137.6},{"f":460.0,"v":-137.3},{"f":460.025,"v":-133.7},{"f":460.05,"v":-137.4},{"f":460.15,"v":-137.7},{"f":460.25,"v":-137.5},{"f":460.35,"v":-137.9},{"f":460.45,"v":-137.6},{"f":460.55,"v":-137.8},{"f":460.65,"v":-137.4},{"f":460.75,"v":-137.7},{"f":460.85,"v":-137.5},{"f":460.95,"v":-137.8},{"f":461.05,"v":-137.4},{"f":461.15,"v":-137.6},{"f":461.25,"v":-137.3},{"f":461.35,"v":-137.7},{"f":461.45,"v":-137.4},{"f":461.55,"v":-137.6},{"f":461.65,"v":-137.3},{"f":461.75,"v":-137.6},{"f":461.85,"v":-137.4},{"f":461.95,"v":-137.7},{"f":462.05,"v":-137.4},{"f":462.15,"v":-137.6},{"f":462.25,"v":-137.8},{"f":462.35,"v":-137.5},{"f":462.45,"v":-137.7},{"f":462.5,"v":-130},{"f":462.52,"v":-124.2},{"f":462.54,"v":-130},{"f":462.56,"v":-137.6},{"f":462.65,"v":-137.5},{"f":462.75,"v":-136.8},{"f":462.8,"v":-137.2},{"f":462.85,"v":-137.6},{"f":462.95,"v":-137.4},{"f":463.05,"v":-137.8},{"f":463.15,"v":-137.5},{"f":463.25,"v":-137.7},{"f":463.35,"v":-137.4},{"f":463.45,"v":-137.8},{"f":463.55,"v":-137.5},{"f":463.65,"v":-137.7},{"f":463.75,"v":-137.4},{"f":463.85,"v":-137.6},{"f":463.95,"v":-137.3},{"f":464.05,"v":-137.7},{"f":464.15,"v":-137.5},{"f":464.25,"v":-137.6},{"f":464.33,"v":-136.8},{"f":464.36,"v":-135.6},{"f":464.4,"v":-137.3},{"f":464.5,"v":-137.6},{"f":464.6,"v":-137.8},{"f":464.7,"v":-137.4},{"f":464.8,"v":-137.7},{"f":464.9,"v":-137.5},{"f":465.0,"v":-137.8},{"f":465.1,"v":-137.5},{"f":465.2,"v":-137.8},{"f":465.3,"v":-137.4},{"f":465.4,"v":-137.9},{"f":465.5,"v":-137.6},{"f":465.6,"v":-137.5},{"f":465.7,"v":-137.3},{"f":465.8,"v":-137.6},{"f":465.9,"v":-137.8},{"f":466.0,"v":-137.5},{"f":466.1,"v":-137.8},{"f":466.2,"v":-137.6},{"f":466.3,"v":-137.4},{"f":466.4,"v":-137.7},{"f":466.5,"v":-137.5},{"f":466.6,"v":-137.8},{"f":466.7,"v":-137.4},{"f":466.8,"v":-137.6},{"f":466.9,"v":-137.3},{"f":467.0,"v":-137.6},{"f":467.1,"v":-137.8},{"f":467.2,"v":-137.4},{"f":467.3,"v":-137.6},{"f":467.4,"v":-137.5},{"f":467.5,"v":-137.6},{"f":467.54,"v":-136},{"f":467.56,"v":-134.3},{"f":467.58,"v":-136.5},{"f":467.62,"v":-137.5},{"f":467.7,"v":-137.6},{"f":467.8,"v":-137.2},{"f":467.84,"v":-136.4},{"f":467.88,"v":-137.4},{"f":467.95,"v":-137.6},{"f":468.05,"v":-137.4},{"f":468.15,"v":-137.7},{"f":468.25,"v":-137.5},{"f":468.35,"v":-137.8},{"f":468.45,"v":-137.4},{"f":468.55,"v":-137.6},{"f":468.6,"v":-137.2},{"f":468.64,"v":-133.3},{"f":468.68,"v":-137.2},{"f":468.75,"v":-137.5},{"f":468.85,"v":-137.7},{"f":468.95,"v":-137.4},{"f":469.05,"v":-137.6},{"f":469.12,"v":-137.3},{"f":469.16,"v":-131},{"f":469.19,"v":-128},{"f":469.22,"v":-131},{"f":469.26,"v":-137.3},{"f":469.35,"v":-137.6},{"f":469.45,"v":-137.4},{"f":469.55,"v":-137.7},{"f":469.65,"v":-137.5},{"f":469.75,"v":-137.4},{"f":469.83,"v":-137},{"f":469.86,"v":-130},{"f":469.9,"v":-119.5},{"f":469.93,"v":-125},{"f":469.96,"v":-136},{"f":470.0,"v":-137.2}
    ],
    "notes": [
      {"label": "avg sample noise", "level": -126},
      {"label": "min sample noise", "level": -136.6}
    ]
  },
  "layer": [
    {
      "data": {"name": "maxTrace"},
      "mark": {"type": "line", "color": "#0000AA", "strokeWidth": 3.4, "strokeJoin": "miter", "strokeMiterLimit": 2},
      "encoding": {
        "x": {
          "field": "f", "type": "quantitative",
          "scale": {"domain": [450, 470], "nice": false, "zero": false},
          "axis": {
            "title": "Frequency (MHz)",
            "format": "d",
            "values": [450,451,452,453,454,455,456,457,458,459,460,461,462,463,464,465,466,467,468,469,470],
            "labelExpr": "(datum.value - 450) % 4 == 0 ? datum.label : ''",
            "labelPadding": 13,
            "titleFont": "DejaVu Sans",
            "titleFontWeight": "bold",
            "titleFontSize": 26,
            "titlePadding": 26
          }
        },
        "y": {
          "field": "v", "type": "quantitative",
          "scale": {"domain": [-140, -40], "nice": false, "zero": false},
          "axis": {
            "title": "Received Signal Level (dBm)",
            "values": [-140,-135,-130,-125,-120,-115,-110,-105,-100,-95,-90,-85,-80,-75,-70,-65,-60,-55,-50,-45,-40],
            "labelExpr": "datum.value % 20 == 0 ? '-' + abs(datum.value) : ''",
            "labelPadding": 22,
            "titleFont": "Liberation Sans",
            "titleFontWeight": "bold",
            "titleFontSize": 24,
            "titlePadding": 76
          }
        }
      }
    },
    {
      "data": {"name": "avgTrace"},
      "transform": [
        {"window": [{"op": "lead", "field": "f", "as": "f2"}, {"op": "lead", "field": "v", "as": "v2"}], "sort": [{"field": "f", "order": "ascending"}]},
        {"filter": "datum.f2 != null"}
      ],
      "mark": {"type": "rule", "color": "#000000", "strokeWidth": 3, "strokeDash": [10, 5], "strokeCap": "butt"},
      "encoding": {
        "x": {"field": "f", "type": "quantitative"},
        "x2": {"field": "f2"},
        "y": {"field": "v", "type": "quantitative"},
        "y2": {"field": "v2"}
      }
    },
    {
      "data": {"name": "minTrace"},
      "mark": {"type": "line", "color": "#00AAAA", "strokeWidth": 3},
      "encoding": {
        "x": {"field": "f", "type": "quantitative"},
        "y": {"field": "v", "type": "quantitative"}
      }
    },
    {
      "data": {"name": "notes"},
      "mark": {"type": "rule", "color": "#000000", "strokeWidth": 3.5},
      "encoding": {
        "x": {"datum": 449.39, "type": "quantitative"},
        "x2": {"datum": 449.81},
        "y": {"field": "level", "type": "quantitative"}
      }
    },
    {
      "data": {"name": "notes"},
      "mark": {"type": "text", "align": "right", "baseline": "middle", "dy": -4, "font": "Liberation Serif", "fontSize": 18, "color": "#000000"},
      "encoding": {
        "x": {"datum": 449.18, "type": "quantitative"},
        "y": {"field": "level", "type": "quantitative"},
        "text": {"field": "label"}
      }
    }
  ]
}
